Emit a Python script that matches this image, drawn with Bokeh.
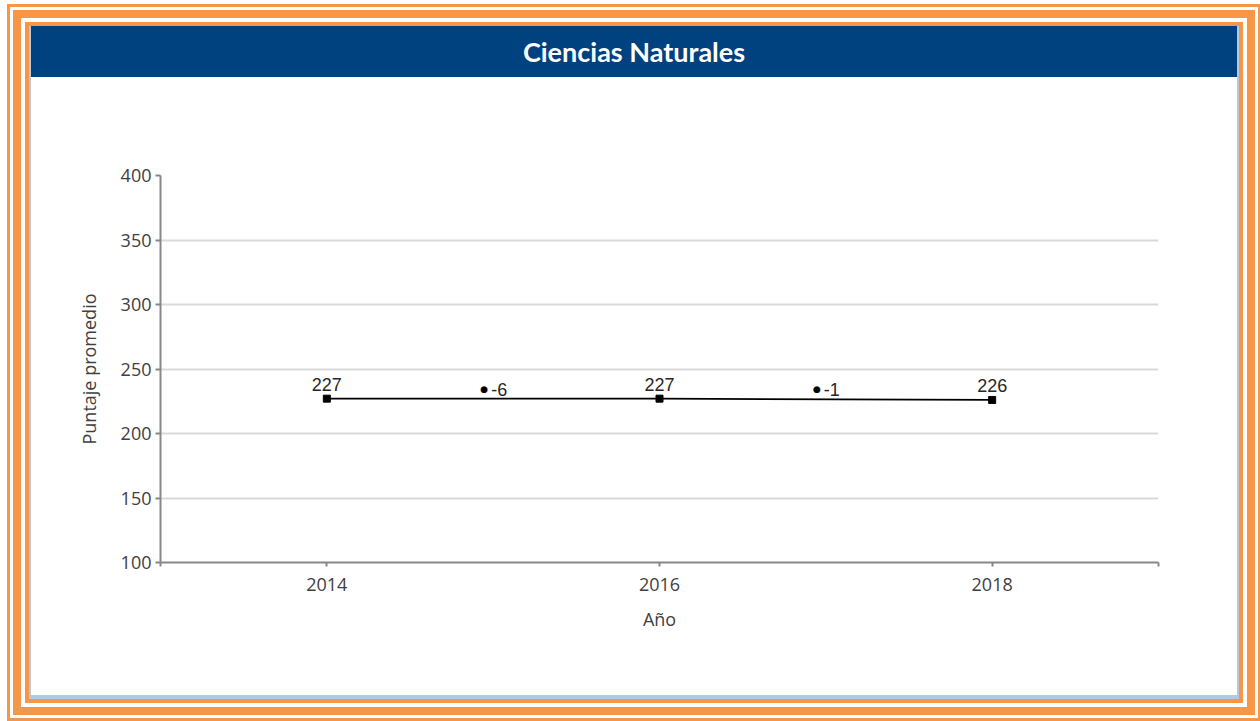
from bokeh.plotting import figure
from bokeh.models import Div, Column, Range1d, FixedTicker, ColumnDataSource
from bokeh.core.properties import value
from bokeh.embed import file_html
from bokeh.resources import INLINE

# ---- data ----
title_text = "Ciencias Naturales"
years = [2014, 2016, 2018]
scores = [227, 227, 226]
score_labels = ["227", "227", "226"]
diff_x = [2015, 2017]
diff_y = [234.5, 234.5]
diff_labels = ["-6", "-1"]
y_ticks = [100, 150, 200, 250, 300, 350, 400]
x_ticks = [2014, 2016, 2018]
x_edges = [2013, 2019]
x_label = "Año"
y_label = "Puntaje promedio"

ORANGE = "#F79646"
BLUE = "#00417F"
EDGE = "#B4C8E2"
AXIS = "#878787"
TXT = "#404040"

p = figure(width=1206, height=618,
           x_range=Range1d(x_edges[0], x_edges[1]), y_range=Range1d(y_ticks[0], y_ticks[-1]),
           output_backend="svg", toolbar_location=None,
           min_border_left=129, min_border_right=79, min_border_top=98, min_border_bottom=133,
           margin=0)
p.outline_line_color = None
p.background_fill_color = None
p.border_fill_color = "white"

for ax in (p.xaxis[0], p.yaxis[0]):
    ax.axis_line_color = AXIS
    ax.axis_line_width = 2
    ax.major_tick_line_color = AXIS
    ax.major_tick_line_width = 2
    ax.minor_tick_line_color = AXIS
    ax.minor_tick_line_width = 2
    ax.major_tick_in = 0
    ax.minor_tick_in = 0
    ax.major_label_text_font = "Open Sans"
    ax.major_label_text_font_size = "18px"
    ax.major_label_text_color = TXT
    ax.axis_label_text_font = "Open Sans"
    ax.axis_label_text_font_size = "18px"
    ax.axis_label_text_font_style = "normal"
    ax.axis_label_text_color = TXT

p.xaxis.ticker = FixedTicker(ticks=x_ticks, minor_ticks=x_edges)
p.xaxis.major_tick_out = 4
p.xaxis.minor_tick_out = 4
p.xaxis.major_label_standoff = 11
p.xaxis.axis_label = x_label
p.xaxis.axis_label_standoff = 13

p.yaxis.ticker = FixedTicker(ticks=y_ticks)
p.yaxis.major_tick_out = 5
p.yaxis.minor_tick_out = 0
p.yaxis.major_label_standoff = 4
p.yaxis.axis_label = y_label
p.yaxis.axis_label_standoff = 17

p.xgrid.grid_line_color = None
p.ygrid.grid_line_color = "#D9D9D9"
p.ygrid.grid_line_width = 2

src = ColumnDataSource(dict(x=years, y=scores, t=score_labels))
p.line("x", "y", source=src, line_color="black", line_width=1.8)
p.scatter("x", "y", source=src, marker="square", size=7, color="black")
p.text("x", "y", text="t", source=src, text_align="center", text_baseline="bottom",
       y_offset=-8, text_font=value("Liberation Sans"), text_font_size="18px",
       text_color="#262626")

dsrc = ColumnDataSource(dict(x=diff_x, y=diff_y, t=diff_labels, dot=["●"] * len(diff_x)))
p.text("x", "y", text="dot", source=dsrc, text_align="center", text_baseline="middle",
       x_offset=-9, text_font=value("DejaVu Sans"), text_font_size="9px", text_color="black")
p.text("x", "y", text="t", source=dsrc, text_align="left", text_baseline="middle",
       x_offset=-2, y_offset=1, text_font=value("Liberation Sans"), text_font_size="18px",
       text_color="#262626")

div = Div(text=title_text, width=1206, height=51, margin=0,
          styles={"background-color": BLUE, "color": "white", "font-family": "Lato",
                  "font-weight": "bold", "font-size": "27px", "text-align": "center",
                  "line-height": "51px"})

shadow = ", ".join([
    f"0 2px 0 2px {EDGE}",
    f"0 2px 0 6px {ORANGE}",
    "0 2px 0 10px white",
    f"0 2px 0 18px {ORANGE}",
    "0 2px 0 21px white",
    f"0 2px 0 24px {ORANGE}",
])
layout = Column(div, p, margin=0,
                styles={"box-shadow": shadow, "transform": "translate(31px, 26px)"})

open("out.html", "w").write(file_html(layout, INLINE))
